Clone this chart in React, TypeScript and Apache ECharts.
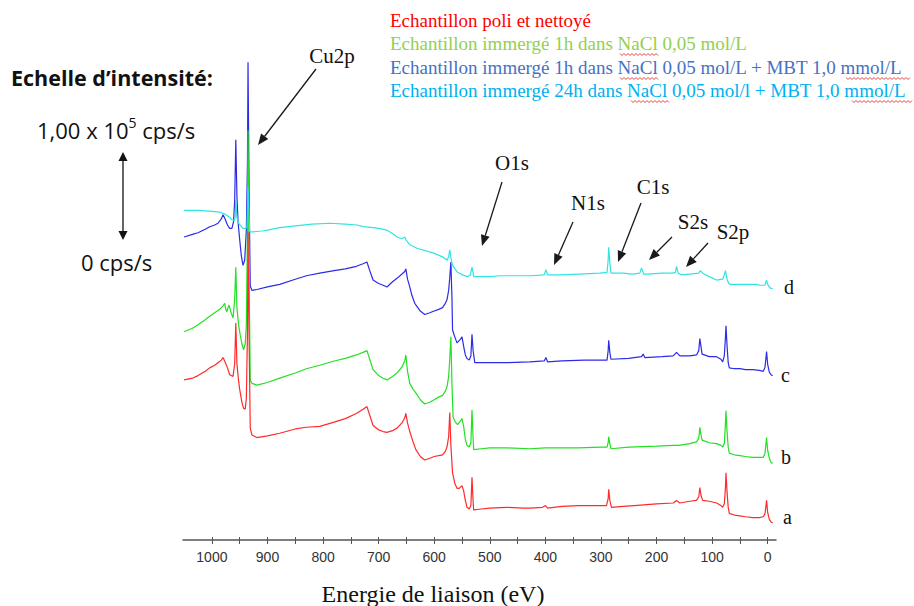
import React, { useEffect, useRef } from 'react';
import * as echarts from 'echarts';

// Binding energy (eV) vs intensity (kcps, curves stacked as displayed)
const spectrumA: [number, number][] = [
  [1050,186],[1035,188],[1025,191],[1012,196],[1004,200],[995,203],[989,206],[983,209],[980,212],[977,208],[972,200],[968,192],[962,190],[959,205],[957,252],[955,205],[952,185],[950,175],[946,160],[943,153],[940,152],[938,165],[936,240],[935,358],[933,230],[931,130],[928,122],[919,119],[900,121],[878,124],[850,129],[830,131],[806,132],[780,137],[760,141],[740,147],[728,152],[721,155],[716,145],[710,133],[700,128],[692,126],[685,125],[675,127],[667,130],[658,136],[653,142],[651,147],[648,136],[644,126],[638,114],[633,105],[625,97],[617,93],[608,95],[600,97],[592,98],[585,99],[580,103],[577,108],[574,120],[572,148],[570,110],[567,78],[563,66],[559,60],[555,60],[552,62],[550,63],[547,57],[544,46],[541,38],[537,36],[534,40],[532,73],[530,45],[529,35],[515,36],[500,37],[470,38],[440,37],[428,37],[405,38],[400,40],[396,37],[370,39],[340,40],[310,40],[290,40],[287,48],[286,59],[284,46],[281,38],[260,39],[240,40],[200,42],[170,43],[164,46],[158,43],[140,45],[128,46],[124,50],[122,61],[120,52],[117,46],[105,45],[92,43],[84,40],[81,38],[78,42],[76,60],[75,78],[73,55],[71,38],[69,31],[60,29],[50,28],[40,27],[27,26],[15,26],[8,27],[5,30],[3,40],[2,46],[0,32],[-3,24],[-6,21],[-9,20]
];
const spectrumB: [number, number][] = [
  [1050,242],[1035,246],[1025,250],[1012,256],[1004,260],[995,264],[986,268],[980,272],[977,275],[975,268],[973,265],[971,270],[969,273],[966,265],[962,258],[959,280],[957,317],[955,270],[952,250],[949,238],[946,228],[943,221],[940,228],[938,250],[936,360],[935,476],[933,300],[931,186],[928,182],[919,180],[900,183],[878,188],[850,194],[830,199],[806,203],[780,208],[760,211],[740,215],[728,218],[721,220],[716,210],[710,198],[700,191],[692,188],[685,186],[675,190],[667,194],[658,201],[653,208],[651,215],[648,196],[644,182],[638,175],[633,171],[625,163],[617,158],[608,160],[600,163],[592,166],[585,168],[580,173],[577,178],[574,190],[572,210],[570,236],[568,180],[566,143],[562,137],[558,134],[553,138],[550,141],[547,132],[544,117],[541,110],[537,108],[534,113],[532,151],[530,118],[529,105],[515,106],[500,107],[470,107],[428,106],[400,107],[370,107],[340,107],[300,108],[289,108],[287,113],[286,120],[284,112],[282,106],[250,108],[200,109],[170,110],[160,110],[140,112],[128,114],[124,118],[122,131],[120,122],[118,116],[105,113],[92,112],[84,110],[81,108],[78,112],[76,135],[75,150],[73,125],[71,108],[69,101],[60,99],[50,98],[40,97],[27,96],[15,96],[8,96],[5,100],[3,112],[2,119],[0,104],[-3,95],[-6,90],[-9,89]
];
const spectrumC: [number, number][] = [
  [1050,352],[1035,355],[1025,357],[1012,361],[1004,364],[995,366],[989,368],[983,373],[980,378],[977,374],[972,366],[968,362],[964,362],[961,370],[959,395],[957,465],[955,400],[953,370],[950,349],[947,330],[944,319],[941,325],[938,360],[936,440],[935,555],[933,400],[931,295],[928,290],[919,291],[900,294],[878,297],[850,303],[830,307],[806,310],[780,313],[760,315],[740,318],[728,321],[721,323],[716,313],[710,302],[700,298],[692,296],[685,294],[675,300],[667,304],[658,309],[653,312],[651,315],[648,303],[644,294],[640,284],[635,275],[625,266],[617,262],[608,264],[600,266],[592,268],[585,270],[580,275],[577,279],[574,290],[572,305],[570,323],[568,280],[567,244],[563,236],[559,229],[553,233],[550,236],[547,225],[544,215],[541,211],[537,209],[534,214],[532,239],[530,220],[527,206],[515,206],[500,206],[470,206],[428,207],[402,208],[399,212],[396,207],[370,208],[330,209],[289,209],[287,220],[286,232],[284,218],[282,210],[250,211],[227,213],[224,216],[221,212],[190,213],[170,214],[164,218],[158,214],[140,214],[128,215],[124,220],[122,234],[120,225],[118,216],[105,213],[92,213],[84,210],[81,207],[78,214],[76,235],[75,249],[73,225],[71,206],[69,200],[60,199],[50,199],[40,198],[27,198],[15,197],[8,196],[5,200],[3,212],[2,219],[0,204],[-3,195],[-6,192],[-9,191]
];
const spectrumD: [number, number][] = [
  [1050,383],[1035,383],[1025,383],[1004,382],[986,381],[975,378],[968,375],[964,372],[960,371],[958,375],[957,395],[955,375],[952,368],[948,365],[944,362],[940,362],[937,363],[936,385],[935,410],[933,375],[932,358],[926,358],[910,359],[900,360],[878,363],[850,365],[820,367],[788,368],[760,367],[739,366],[728,364],[710,363],[700,362],[685,360],[675,356],[667,352],[658,350],[653,352],[650,348],[644,343],[631,339],[615,336],[600,333],[585,329],[577,325],[574,329],[572,337],[570,328],[567,319],[558,311],[549,308],[540,306],[535,308],[532,317],[530,310],[529,306],[515,306],[500,306],[482,307],[450,307],[428,307],[402,308],[399,314],[396,308],[374,308],[340,309],[302,310],[289,311],[287,325],[286,340],[284,322],[282,310],[260,310],[243,309],[230,310],[227,316],[223,309],[216,309],[190,310],[171,310],[166,311],[164,318],[161,310],[155,308],[140,309],[124,310],[121,313],[117,310],[105,306],[92,302],[81,303],[78,308],[76,313],[73,303],[70,298],[68,297],[50,297],[35,297],[20,297],[14,296],[5,296],[3,300],[2,302],[0,297],[-4,293],[-9,292]
];

const SERIES_LETTERS = ['a', 'b', 'c', 'd'];
const LEGEND_LINES = [
  'Echantillon poli et nettoyé',
  'Echantillon immergé 1h dans NaCl 0,05 mol/L',
  'Echantillon immergé 1h dans NaCl 0,05 mol/L + MBT 1,0 mmol/L',
  'Echantillon immergé 24h dans NaCl 0,05 mol/l + MBT 1,0 mmol/L',
];
const PEAK_LABELS = ['Cu2p', 'O1s', 'N1s', 'C1s', 'S2s', 'S2p'];
const X_TICKS = [0, 50, 100, 150, 200, 250, 300, 350, 400, 450, 500, 550, 600, 650, 700, 750, 800, 850, 900, 950, 1000];
const X_LABELS = [0, 100, 200, 300, 400, 500, 600, 700, 800, 900, 1000];
const AXIS_TITLE = 'Energie de liaison (eV)';

const CURVE_COLORS = ['#ff2a2a', '#22e022', '#2b2be8', '#30e4e4'];
const LEGEND_COLORS = ['#ff0000', '#92d050', '#4472c4', '#00b0f0'];
const SERIF = '"Liberation Serif", "Times New Roman", serif';
const SANS = '"Open Sans", Lato, sans-serif';

function arrow(x1: number, y1: number, x2: number, y2: number, hl = 11, hw = 4.5, color = '#1a1a1a'): any[] {
  const dx = x2 - x1, dy = y2 - y1;
  const len = Math.hypot(dx, dy);
  const ux = dx / len, uy = dy / len;
  const bx = x2 - ux * hl, by = y2 - uy * hl;
  const px = -uy, py = ux;
  return [
    { type: 'line', silent: true, shape: { x1, y1, x2: bx, y2: by }, style: { stroke: color, lineWidth: 1.3 } },
    { type: 'polygon', silent: true, shape: { points: [[x2, y2], [bx + px * hw, by + py * hw], [bx - px * hw, by - py * hw]] }, style: { fill: color } },
  ];
}

function squiggle(x1: number, x2: number, y: number): any {
  const pts: number[][] = [];
  let k = 0;
  for (let x = x1; x <= x2; x += 2, k++) pts.push([x, y + (k % 2 ? 1.5 : -0.5)]);
  return { type: 'polyline', silent: true, shape: { points: pts }, style: { stroke: '#e03030', lineWidth: 0.9, fill: null } };
}

function txt(text: string, x: number, y: number, size: number, color: string, family: string, align = 'left', weight = 'normal'): any {
  return {
    type: 'text', silent: true, x, y,
    style: {
      text, fill: color, fontSize: size, fontFamily: family, fontWeight: weight,
      textAlign: align, textVerticalAlign: 'middle', align, verticalAlign: 'middle',
    },
  };
}

export default function App() {
  const ref = useRef<HTMLDivElement>(null);
  useEffect(() => {
    if (!ref.current) return;
    const chart = echarts.init(ref.current, null, { renderer: 'svg' });
    const spectra = [spectrumA, spectrumB, spectrumC, spectrumD];
    const zs = [4, 3, 2, 5];

    const graphics: any[] = [];
    // legend texts
    const legendY = [20, 43, 67, 90];
    LEGEND_LINES.forEach((t, i) => graphics.push(txt(t, 390, legendY[i], 19, LEGEND_COLORS[i], SERIF)));
    graphics.push(squiggle(620, 658, 54));
    graphics.push(squiggle(620, 658, 78));
    graphics.push(squiggle(846, 911, 78));
    graphics.push(squiggle(631, 670, 101));
    graphics.push(squiggle(852, 912, 101));

    // intensity scale
    graphics.push(txt("Echelle d\u2019intensité:", 11, 77, 21.5, '#111', SANS, 'left', 'bold'));
    graphics.push({
      type: 'text', silent: true, x: 37, y: 128,
      style: {
        text: '{n|1,00 x 10}{s|5}{n| cps/s}',
        textVerticalAlign: 'middle', verticalAlign: 'middle',
        rich: {
          n: { fontSize: 22, fontFamily: SANS, fill: '#111', lineHeight: 26, verticalAlign: 'bottom' },
          s: { fontSize: 14, fontFamily: SANS, fill: '#111', lineHeight: 26, verticalAlign: 'top' },
        },
      },
    });
    graphics.push(...arrow(123, 196, 123, 152, 9, 4.5, '#111'));
    graphics.push(...arrow(123, 196, 123, 240, 9, 4.5, '#111'));
    graphics.push(txt('0 cps/s', 81, 262, 22, '#111', SANS));

    // peak labels + arrows
    const peakPos = [[332, 56], [512, 163], [588, 203], [653, 187], [693, 222], [733, 232]];
    PEAK_LABELS.forEach((t, i) => graphics.push(txt(t, peakPos[i][0], peakPos[i][1], 21, '#111', SERIF, 'center')));
    graphics.push(...arrow(316, 69, 258, 145));
    graphics.push(...arrow(502, 182, 482, 246));
    graphics.push(...arrow(573, 222, 554, 265));
    graphics.push(...arrow(641, 203, 618, 262));
    graphics.push(...arrow(672, 237, 649, 260));
    graphics.push(...arrow(708, 243, 686, 267));

    // curve letters
    const letterPos = [[783, 517], [781, 457], [781, 375], [784, 287]];
    SERIES_LETTERS.forEach((t, i) => graphics.push(txt(t, letterPos[i][0], letterPos[i][1], 20, '#111', SERIF)));

    // axis title
    graphics.push(txt(AXIS_TITLE, 433, 594, 24, '#111', SERIF, 'center'));

    chart.setOption({
      animation: false,
      backgroundColor: '#ffffff',
      grid: { left: 183, right: 138, top: 58, bottom: 66 },
      xAxis: [
        {
          type: 'value', min: -15, max: 1052, inverse: true,
          axisLine: { show: true, lineStyle: { color: '#555', width: 1.5 } },
          axisTick: { show: true, length: 4, customValues: X_TICKS, lineStyle: { color: '#555' } },
          axisLabel: {
            show: true, customValues: X_LABELS, fontSize: 14, color: '#333',
            fontFamily: '"Liberation Sans", Arial, sans-serif', margin: 10,
            formatter: (v: number) => String(v),
          },
          splitLine: { show: false },
        },
        {
          type: 'value', min: -15, max: 1052, inverse: true, position: 'bottom',
          axisLine: { show: false },
          axisTick: { show: true, inside: true, length: 3, customValues: X_TICKS, lineStyle: { color: '#555' } },
          axisLabel: { show: false },
          splitLine: { show: false },
        },
      ],
      yAxis: { type: 'value', min: 0, max: 560, show: false, splitLine: { show: false } },
      series: spectra.map((d, i) => ({
        type: 'line', name: SERIES_LETTERS[i], data: d, xAxisIndex: 0, showSymbol: false, z: zs[i],
        lineStyle: { color: CURVE_COLORS[i], width: 1.2 }, itemStyle: { color: CURVE_COLORS[i] },
        silent: true,
      })),
      graphic: { elements: graphics },
    });
    return () => chart.dispose();
  }, []);
  return <div ref={ref} style={{ position: 'fixed', left: 0, top: 0, width: 914, height: 606, background: '#fff' }} />;
}
